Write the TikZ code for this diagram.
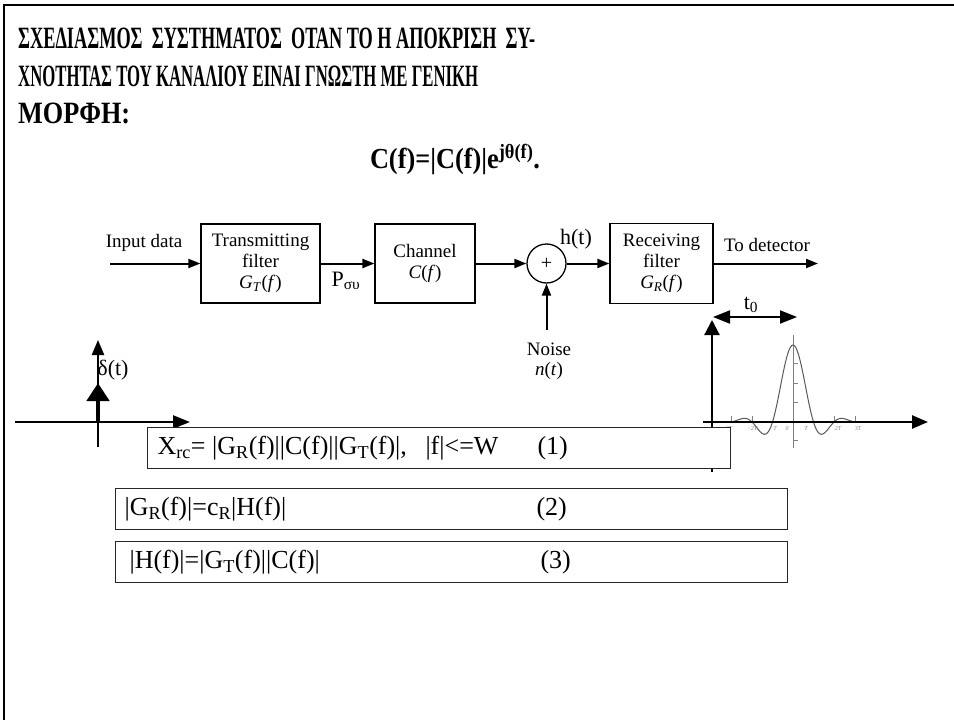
\documentclass[tikz,border=0pt]{standalone}
\usepackage{fontspec}
\setmainfont{Liberation Serif}
\usetikzlibrary{arrows.meta}
\begin{document}
\begin{tikzpicture}[x=1pt,y=-1pt,
  declare function={rc(\u)=sin(180*\u)/(pi*\u)*cos(72*\u)/(1-0.64*\u*\u);},
  blk/.style={draw, line width=1.2pt, align=center, inner sep=0pt, font=\fontsize{19}{21}\selectfont},
  lbl/.style={inner sep=0pt, font=\fontsize{19}{21}\selectfont},
  slbl/.style={inner sep=0pt, font=\fontsize{22}{24}\selectfont},
  ttl/.style={anchor=base west, inner sep=0pt, font=\bfseries\fontsize{31}{34}\selectfont},
  sig/.style={line width=2pt, -{Triangle[length=12pt,width=9pt]}},
  axisline/.style={line width=2.5pt},
  tick/.style={gray, line width=0.6pt},
  ticklbl/.style={inner sep=0pt, text=gray, font=\itshape\fontsize{6}{6}\selectfont},
  eqbox/.style={draw=black!85, line width=1.1pt, fill=white, minimum height=41pt, anchor=north west, inner sep=0pt, font=\fontsize{26}{28}\selectfont}
]
\useasboundingbox (0,0) rectangle (954,720);
\fill[white] (0,0) rectangle (954,720);
% slide frame
\draw[line width=2.5pt, line join=miter] (4,720) -- (4,5) -- (954,5);

% title
\node[ttl] (t1) at (18,48) {\resizebox{517pt}{\height}{ΣΧΕΔΙΑΣΜΟΣ\ \ ΣΥΣΤΗΜΑΤΟΣ\ \ ΟΤΑΝ ΤΟ Η ΑΠΟΚΡΙΣΗ\ \ ΣΥ-}};
\node[ttl] (t2) at (18,86) {\resizebox{460pt}{\height}{ΧΝΟΤΗΤΑΣ ΤΟΥ ΚΑΝΑΛΙΟΥ ΕΙΝΑΙ ΓΝΩΣΤΗ ΜΕ ΓΕΝΙΚΗ}};
\node[ttl] (t3) at (18,123) {\resizebox{112pt}{\height}{ΜΟΡΦΗ:}};
\node[anchor=base, inner sep=0pt, font=\bfseries\fontsize{29}{32}\selectfont] (cf) at (455,168) {\resizebox{170pt}{\height}{C(f)=|C(f)|e\textsuperscript{jθ(f)}.}};

% block diagram
\node[blk, minimum width=119pt, minimum height=79pt] (tx) at (260.5,263.5) {Transmitting\\filter\\\textit{G}\textsubscript{\textit{T}}(\textit{f})};
\node[blk, minimum width=100pt, minimum height=79pt] (ch) at (425,263.5) {Channel\\\textit{C}(\textit{f})};
\node[draw, circle, line width=1.3pt, minimum size=39pt, inner sep=0pt, font=\fontsize{20}{20}\selectfont] (add) at (546.5,263.5) {+};
\node[blk, minimum width=103pt, minimum height=80pt] (rx) at (661.5,263.5) {Receiving\\filter\\\textit{G}\textsubscript{\textit{R}}(\textit{f})};
\coordinate (in) at (110,263.5);
\coordinate (out) at (818,263.5);
\coordinate (nz) at (546.5,330);
\draw[sig] (in) -- (tx.west);
\draw[sig] (tx.east) -- (ch.west);
\draw[sig] (ch.east) -- (add.west);
\draw[sig] (add.east) -- (rx.west);
\draw[sig] (rx.east) -- (out);
\draw[sig] (nz) -- (add.south);
\node[lbl] (inlbl) at (144,243) {Input data};
\node[slbl] (pl) at (346,281) {P\textsubscript{συ}};
\node[slbl] (hl) at (576,239) {h(t)};
\node[lbl] (todet) at (767,245) {To detector};
\node[lbl] (noise) at (549,349) {Noise};
\node[lbl] (nt) at (549,371) {\textit{n}(\textit{t})};

% left plot: impulse
\coordinate (la) at (15,422);
\coordinate (lb) at (190,422);
\coordinate (lc) at (98,447);
\coordinate (ld) at (98,340);
\coordinate (le) at (98,422);
\coordinate (lf) at (98,383);
\draw[axisline, -{Triangle[length=17pt,width=13pt]}] (la) -- (lb);
\draw[line width=2.2pt, -{Triangle[length=15pt,width=12pt]}] (lc) -- (ld);
\draw[line width=4.5pt, -{Triangle[length=18pt,width=22pt]}] (le) -- (lf);
\node[slbl] (dl) at (113,370) {δ(t)};

% right plot: pulse
\draw[gray, line width=0.6pt] (793,335) -- (793,448);
\foreach \yy in {363,383,402,440} \draw[tick] (793,\yy) -- (798,\yy);
\foreach \xx in {731,752,834,855} \draw[tick] (\xx,422) -- (\xx,416);
\draw[gray!70!black, line width=1pt] plot[domain=-3:3, samples=120] ({793+20.5*\x},{422-77*rc(\x)});
\node[ticklbl] (k1) at (727,429) {−3\textit{T}};
\node[ticklbl] (k2) at (752,429) {−2\textit{T}};
\node[ticklbl] (k3) at (773,429) {−\textit{T}};
\node[ticklbl] (k4) at (787,429) {0};
\node[ticklbl] (k5) at (806,429) {\textit{T}};
\node[ticklbl] (k6) at (838,429) {2\textit{T}};
\node[ticklbl] (k7) at (858,429) {3\textit{T}};
\coordinate (ra) at (703,422);
\coordinate (rb) at (928,422);
\coordinate (rc) at (712,472);
\coordinate (rd) at (712,320);
\coordinate (re) at (713,317);
\coordinate (rf) at (797,317);
\draw[axisline, -{Triangle[length=16pt,width=13pt]}] (ra) -- (rb);
\draw[line width=2.2pt, -{Triangle[length=15pt,width=15pt]}] (rc) -- (rd);
\draw[line width=2pt, {Triangle[length=17pt,width=13pt]}-{Triangle[length=17pt,width=13pt]}] (re) -- (rf);
\node[slbl] (t0) at (751,305) {t\textsubscript{0}};

% equation boxes
\node[eqbox] (e1) at (147,427) {\makebox[583pt][l]{\hspace{10pt}\makebox[268pt][l]{X\textsubscript{rc}= |G\textsubscript{R}(f)||C(f)||G\textsubscript{T}(f)|,}\makebox[112pt][l]{|f|<=W}(1)}};
\node[eqbox] (e2) at (115,488) {\makebox[672pt][l]{\hspace{9pt}\makebox[412pt][l]{|G\textsubscript{R}(f)|=c\textsubscript{R}|H(f)|}(2)}};
\node[eqbox] (e3) at (115,541) {\makebox[672pt][l]{\hspace{14pt}\makebox[411pt][l]{|H(f)|=|G\textsubscript{T}(f)||C(f)|}(3)}};
\end{tikzpicture}
\end{document}
